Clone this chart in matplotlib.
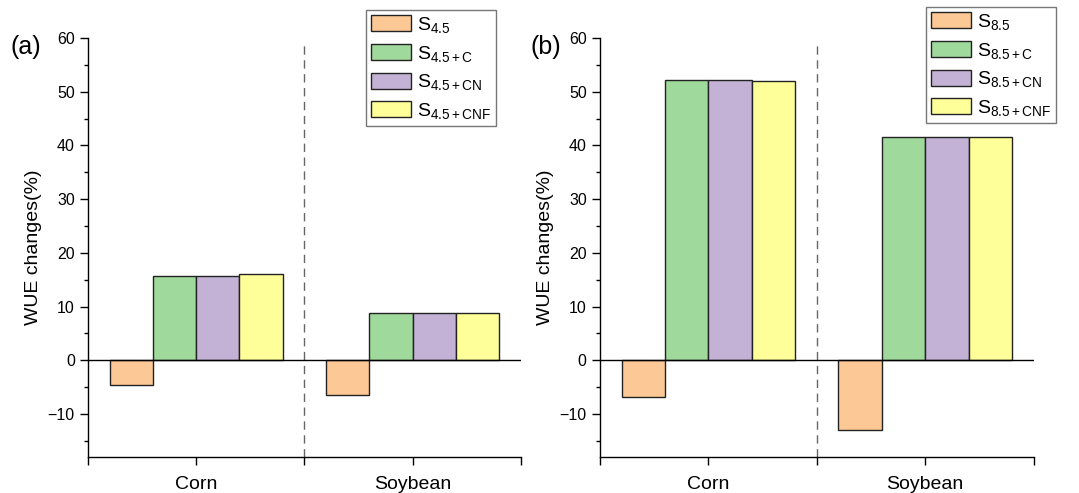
import numpy as np
import matplotlib
matplotlib.use("Agg")
import matplotlib.pyplot as plt
from matplotlib.patches import Patch

plt.rcParams['font.family'] = ['Liberation Sans', 'DejaVu Sans']
plt.rcParams['mathtext.fontset'] = 'custom'
plt.rcParams['mathtext.rm'] = 'Liberation Sans'
plt.rcParams['mathtext.it'] = 'Liberation Sans'

crops = ["Corn", "Soybean"]

# scenario 4.5 (panel a)
s45 = [-4.6, -6.4]
s45_c = [15.7, 8.8]
s45_cn = [15.7, 8.8]
s45_cnf = [16.0, 8.8]
labels_a = [r"$\mathrm{S_{4.5}}$", r"$\mathrm{S_{4.5+C}}$",
            r"$\mathrm{S_{4.5+CN}}$", r"$\mathrm{S_{4.5+CNF}}$"]

# scenario 8.5 (panel b)
s85 = [-6.9, -12.9]
s85_c = [52.2, 41.5]
s85_cn = [52.2, 41.5]
s85_cnf = [52.0, 41.5]
labels_b = [r"$\mathrm{S_{8.5}}$", r"$\mathrm{S_{8.5+C}}$",
            r"$\mathrm{S_{8.5+CN}}$", r"$\mathrm{S_{8.5+CNF}}$"]

colors = ["#FCC895", "#9FD99B", "#C3B1D6", "#FFFF99"]
edge = "#222222"


def draw_panel(ax, series, labels, tag, leg_anchor):
    x = np.arange(1, len(crops) + 1)
    w = 0.2
    offsets = [-0.3, -0.1, 0.1, 0.3]
    for vals, off, c in zip(series, offsets, colors):
        ax.bar(x + off, vals, width=w, color=c, edgecolor=edge, linewidth=1.0, zorder=2)
    ax.axhline(0, color="black", linewidth=1.0, zorder=3)
    ax.axvline(1.5, ymin=0, ymax=0.99, color="#666666", linestyle=(0, (6, 4)), linewidth=1.0, zorder=1)

    ax.set_xlim(0.5, 2.5)
    ax.set_ylim(-18, 60)
    ax.set_xticks([0.5, 1, 1.5, 2, 2.5])
    ax.set_yticks(np.arange(-10, 61, 10))
    ax.set_yticks(np.arange(-15, 60, 5), minor=True)
    ax.tick_params(axis="both", which="major", length=6, width=1.0, labelsize=11.5, direction="out")
    ax.tick_params(axis="y", which="minor", length=3, width=1.0)
    ax.tick_params(axis="x", pad=8)
    ax.set_xticklabels(["", crops[0], "", crops[1], ""], fontsize=14)
    for s in ["top", "right"]:
        ax.spines[s].set_visible(False)
    for s in ["left", "bottom"]:
        ax.spines[s].set_linewidth(1.0)
    ax.set_ylabel("WUE changes(%)", fontsize=14, labelpad=4)

    handles = [Patch(facecolor=c, edgecolor=edge, linewidth=1.0) for c in colors]
    leg = ax.legend(handles, labels, loc="upper right", bbox_to_anchor=leg_anchor,
                    bbox_transform=ax.figure.transFigure,
                    fontsize=14, frameon=True, fancybox=False, edgecolor="#555555",
                    handlelength=2.05, handleheight=0.9, handletextpad=0.3,
                    labelspacing=0.45, borderpad=0.25, borderaxespad=0)
    leg.get_frame().set_linewidth(1.0)
    ax.figure.text(tag[1], 0.905, tag[0], fontsize=18, ha="left", va="center")


fig = plt.figure(figsize=(10.79, 4.93), dpi=100)
ax1 = fig.add_axes([0.0816, 0.073, 0.401, 0.850])
ax2 = fig.add_axes([0.556, 0.073, 0.402, 0.850])

draw_panel(ax1, [s45, s45_c, s45_cn, s45_cnf], labels_a, ("(a)", 0.010), (496 / 1079, 1 - 10 / 493))
draw_panel(ax2, [s85, s85_c, s85_cn, s85_cnf], labels_b, ("(b)", 0.492), (1056 / 1079, 1 - 7 / 493))

fig.savefig("out.png", dpi=100)
